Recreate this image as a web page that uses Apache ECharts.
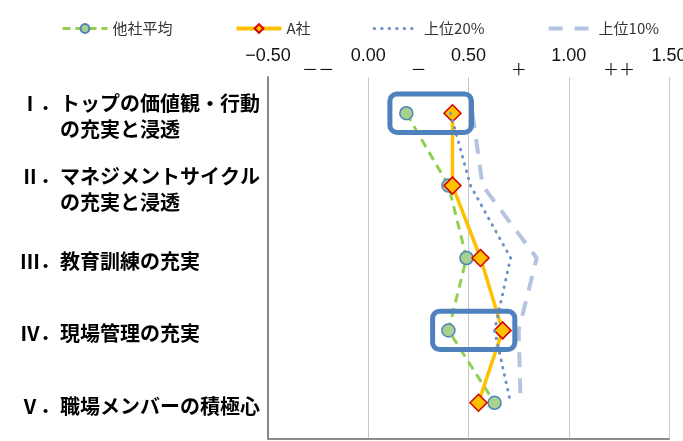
<!DOCTYPE html>
<html>
<head>
<meta charset="utf-8">
<script src="https://cdn.jsdelivr.net/npm/echarts@6/dist/echarts.min.js"></script>
<style>
html,body{margin:0;padding:0;background:#fff;}
#chart{width:683px;height:441px;}
</style>
</head>
<body>
<div id="chart"></div>
<script>
// ---- data ----
const numerals = ['Ⅰ．', 'Ⅱ．', 'Ⅲ．', 'Ⅳ．', 'Ⅴ．'];
const categories = [
  'トップの価値観・行動\nの充実と浸透',
  'マネジメントサイクル\nの充実と浸透',
  '教育訓練の充実',
  '現場管理の充実',
  '職場メンバーの積極心'
];
const seriesNames = ['他社平均', 'A社', '上位20%', '上位10%'];
const otherAvg = [0.19, 0.40, 0.49, 0.40, 0.63];
const companyA = [0.42, 0.42, 0.56, 0.67, 0.55];
const top20 = [0.41, 0.51, 0.71, 0.63, 0.71];
const top10 = [0.52, 0.57, 0.84, 0.75, 0.76];
const xTicks = [-0.5, 0, 0.5, 1.0, 1.5];
const signPositions = [-0.25, 0.25, 0.75, 1.25];
const signLabels = ['－－', '－', '＋', '＋＋'];
// highlight boxes: category index and value range
const boxes = [
  {cat: 0, from: 0.108, to: 0.515, half: 0.265},
  {cat: 3, from: 0.321, to: 0.731, half: 0.265}
];

const chart = echarts.init(document.getElementById('chart'), null, {renderer: 'canvas'});

const fmtTick = v => (v < 0 ? '\u2212' : '') + Math.abs(v).toFixed(2);
const noMarker = {color: 'rgba(0,0,0,0)', borderWidth: 0};

const styles = {
  green: {line: {color: '#92D050', width: 3, type: [9, 6]}},
  orange: {line: {color: '#FFC000', width: 3.5}},
  dotted: {line: {color: '#6E92CC', width: 3, type: [0.5, 7], cap: 'round'}},
  dashed: {line: {color: '#B4C4E0', width: 4, type: [15, 11]}}
};

const option = {
  animation: false,
  backgroundColor: '#fff',
  legend: {
    top: 16,
    left: 56,
    itemWidth: 45,
    itemHeight: 11,
    itemGap: 62,
    textStyle: {fontFamily: 'Noto Sans CJK JP', fontSize: 15, color: '#333'},
    data: [
      {name: seriesNames[0], lineStyle: {width: 3, type: [8, 5]}},
      {name: seriesNames[1], lineStyle: {width: 4}},
      {name: seriesNames[2], itemStyle: noMarker, lineStyle: {width: 3, type: [0.5, 7], cap: 'round'}},
      {name: seriesNames[3], itemStyle: noMarker, lineStyle: {width: 4, type: [14, 12]}}
    ]
  },
  grid: {left: 268, right: 14, top: 77, bottom: 2, containLabel: false, outerBoundsMode: 'none'},
  xAxis: [
    {
      type: 'value', position: 'top', min: -0.5, max: 1.5, interval: 0.5, offset: 0,
      axisLine: {show: false}, axisTick: {show: false},
      splitLine: {show: true, lineStyle: {color: '#C8C8C8', width: 1}},
      axisLabel: {
        margin: 12, fontSize: 18, color: '#111', fontFamily: 'Liberation Sans',
        customValues: xTicks, formatter: fmtTick
      }
    },
    {
      type: 'value', position: 'top', min: -0.5, max: 1.5, offset: 0,
      axisLine: {show: false}, axisTick: {show: false}, splitLine: {show: false},
      axisLabel: {
        margin: 0, fontSize: 16, color: '#111', fontFamily: 'Noto Sans CJK JP',
        customValues: signPositions,
        formatter: v => signLabels[signPositions.indexOf(v)] || ''
      }
    },
    {
      type: 'value', position: 'bottom', min: -0.5, max: 1.5, offset: 0,
      axisLine: {show: true, lineStyle: {color: '#8C8C8C', width: 2}},
      axisTick: {show: false}, splitLine: {show: false}, axisLabel: {show: false}
    }
  ],
  yAxis: {
    type: 'category', inverse: true, data: categories,
    axisLine: {show: true, onZero: false, lineStyle: {color: '#868686', width: 2}},
    axisTick: {show: false}, splitLine: {show: false},
    axisLabel: {
      align: 'left', margin: 248, padding: [7, 0, 0, 0],
      formatter: (value, index) => value.split('\n').map((l, i) =>
        '{n|' + (i === 0 ? numerals[index] : ' ') + '}{t|' + l + '}').join('\n'),
      rich: {
        n: {fontFamily: 'Noto Sans CJK JP', fontWeight: 'bold', fontSize: 20, width: 40, color: '#000', lineHeight: 26},
        t: {fontFamily: 'Noto Sans CJK JP', fontWeight: 'bold', fontSize: 20, color: '#000', lineHeight: 26}
      }
    }
  },
  series: [
    {
      name: seriesNames[0], type: 'line', data: otherAvg, xAxisIndex: 0,
      symbol: 'circle', symbolSize: 13,
      itemStyle: {color: '#A9D18E', borderColor: '#4F81BD', borderWidth: 1.5},
      lineStyle: styles.green.line,
      z: 2
    },
    {
      name: seriesNames[1], type: 'line', data: companyA, xAxisIndex: 0,
      symbol: 'diamond', symbolSize: 17,
      itemStyle: {color: '#FFC000', borderColor: '#D40000', borderWidth: 1.5},
      lineStyle: styles.orange.line,
      z: 3
    },
    {
      name: seriesNames[2], type: 'line', data: top20, xAxisIndex: 0,
      symbol: 'none',
      itemStyle: {color: '#6E92CC'},
      lineStyle: styles.dotted.line,
      z: 4
    },
    {
      name: seriesNames[3], type: 'line', data: top10, xAxisIndex: 0,
      symbol: 'none',
      itemStyle: {color: '#B4C4E0'},
      lineStyle: styles.dashed.line,
      z: 1
    }
  ]
};
chart.setOption(option);

// highlight boxes positioned through the axes
const y0 = chart.convertToPixel({yAxisIndex: 0}, 0);
const y1 = chart.convertToPixel({yAxisIndex: 0}, 1);
const band = Math.abs(y1 - y0);
chart.setOption({
  graphic: boxes.map(b => {
    const xa = chart.convertToPixel({xAxisIndex: 0}, b.from);
    const xb = chart.convertToPixel({xAxisIndex: 0}, b.to);
    const yc = chart.convertToPixel({yAxisIndex: 0}, b.cat);
    return {
      type: 'rect', z: 100,
      shape: {x: xa, y: yc - b.half * band, width: xb - xa, height: 2 * b.half * band, r: 7},
      style: {fill: 'none', stroke: '#4F81BD', lineWidth: 5}
    };
  })
});
</script>
</body>
</html>
